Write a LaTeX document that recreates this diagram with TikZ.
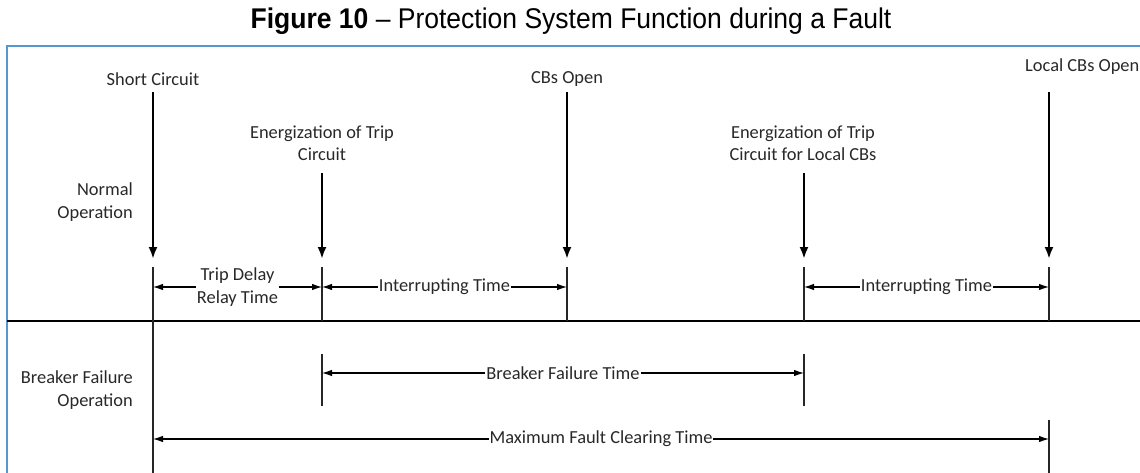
\documentclass[tikz,border=0pt]{standalone}
\usepackage{fontspec}
\setmainfont{Carlito}
\newfontfamily\titlefont[FakeStretch=0.93]{Liberation Sans}
\usetikzlibrary{arrows.meta}
\definecolor{frameblue}{RGB}{84,152,208}
\definecolor{labelgray}{RGB}{40,40,40}

\tikzset{
  event/.style={-{Latex[length=12pt,width=9pt]}, line width=2.4pt},
  tick/.style={line width=1.3pt, black!85},
  dim/.style={{Latex[length=10pt,width=6.5pt]}-{Latex[length=10pt,width=6.5pt]}, line width=1.1pt},
  lbl/.style={text=labelgray, font=\fontsize{18.4}{22.5}\selectfont, align=center, inner sep=0pt},
  dimlabel/.style={fill=white, inner sep=1pt},
}

\begin{document}
\begin{tikzpicture}[x=1pt, y=-1pt]
  \clip (0,0) rectangle (1140,472);
  % Rahmen und Titel
  \draw[frameblue, line width=2pt] (7,490) |- (1160,46);
  \node[anchor=base] (title) at (571,28) {\titlefont\fontsize{28.5}{32}\selectfont\textbf{Figure 10} – Protection System Function during a Fault};
  % Trennlinie Normalbetrieb / Schalterversagen
  \draw[line width=2.6pt] (7,321) -- (1140,321);
  % Ereignisse: Pfeil nach unten und Marke bis zur Trennlinie
  \foreach \n/\x/\ya in {sc/153/92, trip/322/173, cbs/567/92, ltrip/804/173, lcbs/1049/92} {
    \coordinate (\n-a) at (\x,\ya);
    \coordinate (\n-b) at (\x,259);
    \coordinate (\n-t) at (\x,267);
    \coordinate (\n-s) at (\x,321);
    \coordinate (\n-d) at (\x,287);
    \draw[event] (\n-a) -- (\n-b);
    \draw[tick] (\n-t) -- (\n-s);
  }
  % Marken unterhalb der Trennlinie
  \coordinate (sc-e) at (153,480);
  \coordinate (sc-m) at (153,439);
  \foreach \n/\x in {trip/322, ltrip/804} {
    \coordinate (\n-u) at (\x,354);
    \coordinate (\n-l) at (\x,406);
    \coordinate (\n-f) at (\x,373);
    \draw[tick] (\n-u) -- (\n-l);
  }
  \coordinate (lcbs-u) at (1049,420);
  \coordinate (lcbs-l) at (1049,480);
  \coordinate (lcbs-m) at (1049,439);
  \draw[tick] (sc-t) -- (sc-e);
  \draw[tick] (lcbs-u) -- (lcbs-l);
  % Beschriftung der Ereignisse
  \node[lbl] (sc-lbl) at (153,79) {Short Circuit};
  \node[lbl] (trip-lbl) at (322,143) {Energization of Trip\\Circuit};
  \node[lbl] (cbs-lbl) at (567,79) {CBs Open};
  \node[lbl] (ltrip-lbl) at (803,143) {Energization of Trip\\Circuit for Local CBs};
  \node[lbl, anchor=west] (lcbs-lbl) at (1025,67) {Local CBs Open};
  \node[lbl, align=right, anchor=east] (normal) at (133,202) {Normal\\Operation};
  \node[lbl, align=right, anchor=east] (bfo) at (133,390) {Breaker Failure\\Operation};
  % Zeitspannen
  \draw[dim] (sc-d) -- node[lbl, dimlabel] (tdrt) {Trip Delay\\Relay Time} (trip-d);
  \draw[dim] (trip-d) -- node[lbl, dimlabel] (it1) {Interrupting Time} (cbs-d);
  \draw[dim] (ltrip-d) -- node[lbl, dimlabel] (it2) {Interrupting Time} (lcbs-d);
  \draw[dim] (trip-f) -- node[lbl, dimlabel] (bft) {Breaker Failure Time} (ltrip-f);
  \draw[dim] (sc-m) -- node[lbl, dimlabel] (mfct) {Maximum Fault Clearing Time} (lcbs-m);
\end{tikzpicture}
\end{document}
